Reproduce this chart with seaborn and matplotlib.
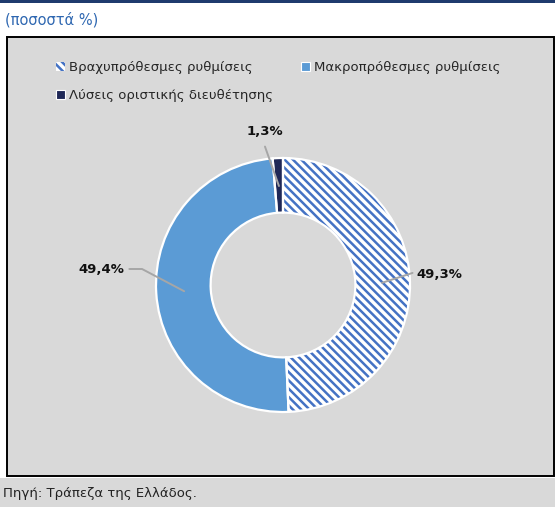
import numpy as np
import matplotlib
matplotlib.use('Agg')
import matplotlib.pyplot as plt
import seaborn as sns
from matplotlib.patches import Rectangle, Patch

# data
categories = ['Βραχυπρόθεσμες ρυθμίσεις', 'Μακροπρόθεσμες ρυθμίσεις',
              'Λύσεις οριστικής διευθέτησης']
shares = [49.3, 49.4, 1.3]
title = '(ποσοστά %)'
source = 'Πηγή: Τράπεζα της Ελλάδος.'

hatch_blue = '#4472c4'
colors = ['white', '#5b9bd5', '#1f2857']
bg = '#d9d9d9'
hatch = '\\' * 4

sns.set_style('white')
plt.rcParams['font.family'] = ['DejaVu Sans']
plt.rcParams['hatch.linewidth'] = 1.8

W, H = 555, 507
fig = plt.figure(figsize=(W / 100, H / 100), dpi=100, facecolor='white')

def fx(x):
    return x / W

def fy(y):
    return 1 - y / H

# frame elements
fig.patches.append(Rectangle((0, fy(3)), 1, 3 / H, transform=fig.transFigure,
                             facecolor='#1f3b6e', edgecolor='none', zorder=-5))
fig.patches.append(Rectangle((fx(7), fy(476)), fx(547), (476 - 37) / H,
                             transform=fig.transFigure, facecolor=bg,
                             edgecolor='black', lw=1.4, zorder=-5))
fig.patches.append(Rectangle((0, 0), 1, (H - 478) / H, transform=fig.transFigure,
                             facecolor=bg, edgecolor='none', zorder=-5))
fig.text(fx(5), fy(20), title, color='#2e67b1', fontsize=10.5, va='center')
fig.text(fx(3), fy(493), source, color='#222222', fontsize=9.5, va='center')

# pie axes mapped so that 1 data unit = 127 px, centre at (283, 285)
cx, cy, R = 283, 285, 127
ax = fig.add_axes([0, 0, 1, 1])
ax.patch.set_alpha(0)

wedges, _ = ax.pie(shares, colors=colors, startangle=90, counterclock=False,
                   radius=1, wedgeprops=dict(width=0.43, linewidth=0))
wedges[0].set_hatch(hatch)
wedges[0].set_edgecolor(hatch_blue)
# white separators on top
ax.pie(shares, colors=['none'] * 3, startangle=90, counterclock=False,
       radius=1, wedgeprops=dict(width=0.43, linewidth=1.6, edgecolor='white',
                                 fill=False))

ax.set_xlim(-cx / R, (W - cx) / R)
ax.set_ylim(-(H - cy) / R, cy / R)
ax.axis('off')

# labels with leader lines
label_pos = [(1.23, 0.08), (-1.43, 0.12), (-0.14, 1.205)]
line_start = [(1.02, 0.095), (-1.21, 0.126), (-0.142, 1.09)]
for w, v, lp, ls in zip(wedges, shares, label_pos, line_start):
    ang = np.deg2rad((w.theta1 + w.theta2) / 2)
    px, py = 0.78 * np.cos(ang), 0.78 * np.sin(ang)
    if lp[0] < -1:
        ax.plot([ls[0], ls[0] + 0.1, px], [ls[1], ls[1], py], color='#a6a6a6', lw=1.4)
    else:
        ax.plot([ls[0], px], [ls[1], py], color='#a6a6a6', lw=1.4)
    ax.text(lp[0], lp[1], f'{v:.1f}'.replace('.', ',') + '%', ha='center',
            va='center', fontsize=9.5, fontweight='bold', color='#111111')

handles = [Patch(facecolor='white', edgecolor=hatch_blue, hatch=hatch, lw=0),
           Patch(facecolor=colors[1], edgecolor='white', lw=0.8),
           Patch(facecolor=colors[2], edgecolor='white', lw=0.8)]
# legend fills column-wise, so reorder to get row order A B / C
order = [0, 2, 1]
fig.legend([handles[i] for i in order], [categories[i] for i in order],
           ncol=2, loc='upper left',
           bbox_to_anchor=(fx(56), fy(61)), frameon=False, fontsize=9.5,
           handlelength=0.65, handleheight=0.65, handletextpad=0.35,
           columnspacing=2.1, labelspacing=1.15, borderpad=0, borderaxespad=0)

fig.savefig('out.png', dpi=100, facecolor='white')
